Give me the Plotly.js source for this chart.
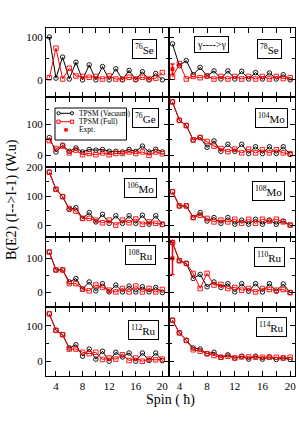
<!DOCTYPE html>
<html><head><meta charset="utf-8">
<script src="https://cdn.plot.ly/plotly-3.0.1.min.js"></script>
<style>html,body{margin:0;padding:0;background:#fff}#chart{width:299px;height:423px}</style>
</head><body><div id="chart"></div>
<script>
const spin = [3,4,5,6,7,8,9,10,11,12,13,14,15,16,17,18,19,20];

const se76Vac  = [100,4,53,2,41,0,35,0,31,0,26,0,22,0,19,0,15,0];
const se76Full = [5,74,2,27,9,8,6,8,2,9,2,2,6,2,6,2,4,17];
const se78Vac  = [84,33,45,12,29,9,21,2,21,2,20,2,17,2,16,2,12,0];
const se78Full = [6,38,2,8,5,9,2,8,2,8,2,8,2,8,2,8,3,5];
const ge76Vac  = [58,11,33,13,24,11,19,17,19,13,13,11,19,13,30,11,20,11];
const ge76Full = [48,22,30,8,17,2,6,2,8,2,6,6,11,6,11,0,11,5];
const mo104Vac  = [174,114,97,50,58,26,47,13,36,13,36,6,28,6,28,6,28,3];
const mo104Full = [174,114,97,50,58,45,30,22,12,20,8,20,8,18,8,18,8,5];
const mo106Vac  = [182,123,98,54,60,23,43,11,37,6,32,6,32,6,34,3,32,2];
const mo106Full = [182,123,98,57,48,23,23,17,8,17,0,17,8,21,3,11,6,3];
const mo108Vac  = [115,66,66,26,43,14,26,6,26,3,17,3,20,3,17,3,14,0];
const mo108Full = [115,66,66,26,34,23,11,17,11,20,6,20,6,20,14,20,11,0];
const ru108Vac  = [118,66,66,31,41,10,31,5,26,2,22,2,19,2,17,2,15,0];
const ru108Full = [118,66,66,26,26,10,5,22,15,7,2,12,2,19,2,12,2,9];
const ru110Vac  = [146,93,85,41,53,17,31,15,26,2,26,4,26,2,26,4,25,0];
const ru110Full = [146,93,85,56,12,56,22,24,12,15,7,12,2,12,9,7,9,0];
const ru112Vac  = [133,87,75,38,47,15,35,7,29,1,26,13,24,1,24,3,24,3];
const ru112Full = [133,87,75,35,35,26,22,26,6,10,7,19,3,10,1,7,5,7];
const ru114Vac  = [115,80,59,38,35,22,26,12,19,10,15,7,15,7,13,6,10,6];
const ru114Full = [115,80,59,33,29,22,17,12,15,10,13,13,12,12,12,12,10,12];

const se78ExptSpin = [3], se78Expt = [25], se78ExptErr = [12];
const ru110ExptSpin = [3], ru110Expt = [100], ru110ExptErr = [47];

const labels = ['<sup>76</sup>Se','<sup>78</sup>Se','<sup>76</sup>Ge','<sup>104</sup>Mo','<sup>106</sup>Mo',
                '<sup>108</sup>Mo','<sup>108</sup>Ru','<sup>110</sup>Ru','<sup>112</sup>Ru','<sup>114</sup>Ru'];
const vacSets  = [se76Vac,se78Vac,ge76Vac,mo104Vac,mo106Vac,mo108Vac,ru108Vac,ru110Vac,ru112Vac,ru114Vac];
const fullSets = [se76Full,se78Full,ge76Full,mo104Full,mo106Full,mo108Full,ru108Full,ru110Full,ru112Full,ru114Full];
const xTicks = [4,8,12,16,20];
const yTicks = [0,100,200];

// layout geometry (pixels)
const W = 299, H = 423, ML = 46, MR = 4, MT = 28, MB = 47;
const PW = W-ML-MR, PH = H-MT-MB;
const px2x = p => (p-ML)/PW;
const py2y = p => 1-(p-MT)/PH;
const colEdges = [[46,169],[169,295]];
const rowEdges = [[28,97],[97,167],[167,237],[237,307],[307,376]];
const yRanges = [[-40,121],[-38,190],[-41,200],[-42,162],[-40,152]];
const xRanges = [[2.5,21],[2.5,20.7]];
const boxes = [[130,40,158,57],[254,40,284,57],[130,110,160,127],[255,110,287,127],[126,180,155,196],
               [253,183,284,199],[126,247,155,263],[255,248,284,265],[129,322,157,338],[255,318,287,335]];

const FONT = 'Liberation Serif, Times New Roman, serif';
const traces = [];
const layout = {
  width: W, height: H, margin:{l:ML,r:MR,t:MT,b:MB},
  paper_bgcolor:'#fff', plot_bgcolor:'#fff', showlegend:false,
  font:{family:FONT, color:'#000', size:11},
  annotations:[], shapes:[]
};

for (let i=0;i<10;i++){
  const r = Math.floor(i/2), c = i%2, n = i+1;
  const xa = 'x'+(n===1?'':n), ya = 'y'+(n===1?'':n);
  const xk = 'xaxis'+(n===1?'':n), yk = 'yaxis'+(n===1?'':n);
  layout[xk] = {
    domain:[px2x(colEdges[c][0]), px2x(colEdges[c][1])], anchor: ya, range: xRanges[c],
    showline:true, linecolor:'#000', linewidth:1, mirror:'allticks', zeroline:false, showgrid:false,
    ticks:'inside', ticklen:5, tickcolor:'#000', tickvals:xTicks, showticklabels: r===4,
    tickfont:{size:11, family:FONT},
    minor:{ticks:'inside', ticklen:5, dtick:2, tick0:0, tickcolor:'#000', showgrid:false}
  };
  layout[yk] = {
    domain:[py2y(rowEdges[r][1]), py2y(rowEdges[r][0])], anchor: xa, range: yRanges[r],
    showline:true, linecolor:'#000', linewidth:1, mirror:'allticks', zeroline:false, showgrid:false,
    ticks:'inside', ticklen:5, tickcolor:'#000', tickvals:yTicks, showticklabels: c===0,
    tickfont:{size:11, family:FONT},
    minor:{ticks:'inside', ticklen:3, dtick:50, tick0:0, tickcolor:'#000', showgrid:false}
  };
  traces.push({x:spin, y:vacSets[i], xaxis:xa, yaxis:ya, type:'scatter', mode:'lines+markers',
    line:{color:'#000', width:1}, marker:{symbol:'circle-open', size:4.5, color:'#000', line:{width:0.9}}, cliponaxis:false});
  traces.push({x:spin, y:fullSets[i], xaxis:xa, yaxis:ya, type:'scatter', mode:'lines+markers',
    line:{color:'#ff0000', width:1}, marker:{symbol:'square-open', size:4.5, color:'#ff0000', line:{width:0.9}}, cliponaxis:false});
  const b = boxes[i];
  layout.annotations.push({xref:'paper', yref:'paper', x:px2x((b[0]+b[2])/2), y:py2y((b[1]+b[3])/2),
    xanchor:'center', yanchor:'middle', text:labels[i], showarrow:false, font:{size:11, family:FONT},
    bordercolor:'#000', borderwidth:1, borderpad:2, bgcolor:'#fff'});
}
// experimental points
traces.push({x:se78ExptSpin, y:se78Expt, xaxis:'x2', yaxis:'y2', type:'scatter', mode:'markers',
  marker:{symbol:'square', size:4, color:'#ff0000'},
  error_y:{type:'data', array:se78ExptErr, visible:true, color:'#ff0000', thickness:1.5, width:2}, cliponaxis:false});
traces.push({x:ru110ExptSpin, y:ru110Expt, xaxis:'x8', yaxis:'y8', type:'scatter', mode:'markers',
  marker:{symbol:'square', size:4, color:'#ff0000'},
  error_y:{type:'data', array:ru110ExptErr, visible:true, color:'#ff0000', thickness:1.5, width:2}, cliponaxis:false});

// gamma box
layout.annotations.push({xref:'paper', yref:'paper', x:px2x(211.5), y:py2y(44.5), xanchor:'center', yanchor:'middle',
  text:'γ---->γ', showarrow:false, font:{size:10, family:FONT}, bordercolor:'#000', borderwidth:1, borderpad:2, bgcolor:'#fff'});

// legend (drawn by hand)
layout.shapes.push({type:'rect', xref:'paper', yref:'paper', x0:px2x(55), x1:px2x(126.5), y0:py2y(140), y1:py2y(108),
  line:{color:'#000', width:1}, fillcolor:'#fff', layer:'above'});
const legRows = [113.3, 121.7, 129.8];
const legText = ['TPSM (Vacuum)','TPSM (Full)','Expt.'];
const legCol = ['#000','#ff0000','#ff0000'];
for (let k=0;k<3;k++){
  const yy = legRows[k];
  if (k<2){
    layout.shapes.push({type:'line', xref:'paper', yref:'paper', x0:px2x(58.5), x1:px2x(72), y0:py2y(yy), y1:py2y(yy),
      line:{color:legCol[k], width:1}, layer:'above'});
    [58.5,72].forEach(xx=>{
      layout.shapes.push({type:k===0?'circle':'rect', xref:'paper', yref:'paper',
        x0:px2x(xx-1.6), x1:px2x(xx+1.6), y0:py2y(yy+1.6), y1:py2y(yy-1.6),
        line:{color:legCol[k], width:1}, fillcolor:'#fff', layer:'above'});
    });
  } else {
    layout.shapes.push({type:'rect', xref:'paper', yref:'paper', x0:px2x(64.5), x1:px2x(67.5), y0:py2y(yy+1.5), y1:py2y(yy-1.5),
      line:{color:'#ff0000', width:0.5}, fillcolor:'#ff0000', layer:'above'});
  }
  layout.annotations.push({xref:'paper', yref:'paper', x:px2x(76.5), y:py2y(yy), xanchor:'left', yanchor:'middle',
    text:legText[k], showarrow:false, font:{size:7.5, family:FONT}});
}

// axis titles
layout.annotations.push({xref:'paper', yref:'paper', x:px2x(12), y:py2y(200), xanchor:'center', yanchor:'middle',
  text:'B(E2) (I-->I-1) (W.u)', textangle:-90, showarrow:false, font:{size:14, family:FONT}});
layout.annotations.push({xref:'paper', yref:'paper', x:px2x(170), y:py2y(400), xanchor:'center', yanchor:'middle',
  text:'Spin ( ħ)', showarrow:false, font:{size:14, family:FONT}});

Plotly.newPlot('chart', traces, layout, {staticPlot:true, displayModeBar:false});
</script>
</body></html>
